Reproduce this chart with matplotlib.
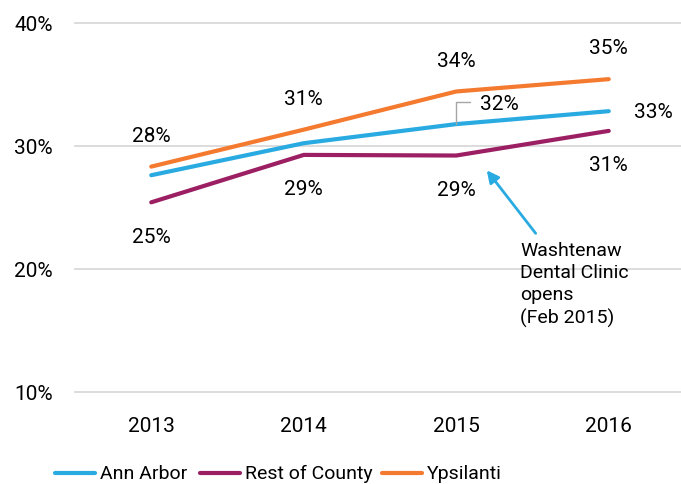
import matplotlib
matplotlib.use("Agg")
import matplotlib.pyplot as plt
from matplotlib.lines import Line2D

years = ["2013", "2014", "2015", "2016"]
ann_arbor = [27.6, 30.2, 31.75, 32.8]
rest_county = [25.4, 29.25, 29.2, 31.2]
ypsilanti = [28.3, 31.3, 34.4, 35.4]

ann_labels = ["", "", "32%", "33%"]
rest_labels = ["25%", "29%", "29%", "31%"]
ypsi_labels = ["28%", "31%", "34%", "35%"]
series_names = ["Ann Arbor", "Rest of County", "Ypsilanti"]

C_ANN = "#29abe2"
C_REST = "#9b1f62"
C_YPSI = "#f47a30"

plt.rcParams["font.family"] = ["Roboto", "DejaVu Sans"]

fig = plt.figure(figsize=(6.81, 4.85), dpi=100)
W, H = 681, 485
# axes: x from 75 to 685 px, y from 23.5 to 393 px
ax = fig.add_axes([75 / W, 1 - 393 / H, 610 / W, (393 - 23.5) / H])
x = list(range(len(years)))

ax.set_xlim(-0.5, 3.5)
ax.set_ylim(10, 40)
for v in (10, 20, 30, 40):
    ax.axhline(v, color="#d9d9d9", lw=1.3, zorder=1, clip_on=False)

ax.plot(x, ann_arbor, color=C_ANN, lw=3, solid_capstyle="round", zorder=3)
ax.plot(x, rest_county, color=C_REST, lw=3, solid_capstyle="round", zorder=3)
ax.plot(x, ypsilanti, color=C_YPSI, lw=3, solid_capstyle="round", zorder=3)

fs = 15
for i, t in enumerate(ypsi_labels):
    ax.annotate(t, (x[i], ypsilanti[i]), xytext=(0, 22.5), textcoords="offset points",
                ha="center", va="center", fontsize=fs)
for i, t in enumerate(rest_labels):
    ax.annotate(t, (x[i], rest_county[i]), xytext=(0, -24.5), textcoords="offset points",
                ha="center", va="center", fontsize=fs)
# Ann Arbor labels
ax.annotate(ann_labels[3], (x[3], ann_arbor[3]), xytext=(32, 0), textcoords="offset points",
            ha="center", va="center", fontsize=fs)
ax.annotate(ann_labels[2], (x[2], ann_arbor[2]), xytext=(31, 15), textcoords="offset points",
            ha="center", va="center", fontsize=fs)
# leader line for 32%
ax.annotate("", xy=(x[2], ann_arbor[2]), xytext=(x[2] + 0.09, ann_arbor[2] + 1.8),
            arrowprops=dict(arrowstyle="-", color="#a6a6a6", lw=1,
                            connectionstyle="angle,angleA=0,angleB=90,rad=0",
                            shrinkA=0, shrinkB=0))

# event annotation
ax.annotate("Washtenaw\nDental Clinic\nopens\n(Feb 2015)", xy=(2.2, 28.0), xytext=(2.42, 22.3),
            fontsize=14, ha="left", va="top", linespacing=1.3,
            arrowprops=dict(arrowstyle="-|>", color=C_ANN, lw=2, mutation_scale=18,
                            shrinkA=4, shrinkB=0))

ax.set_yticks([10, 20, 30, 40])
ax.set_yticklabels(["10%", "20%", "30%", "40%"], fontsize=fs)
ax.set_xticks(x)
ax.set_xticklabels(years, fontsize=fs)
ax.tick_params(length=0)
ax.tick_params(axis="x", pad=17)
ax.tick_params(axis="y", pad=16)
for s in ax.spines.values():
    s.set_visible(False)

# legend drawn by hand to match spacing
leg_y = 1 - 474 / H
leg_x = [(55, 100), (200, 245), (382, 427)]
for (lx, tx), name, c in zip(leg_x, series_names, [C_ANN, C_REST, C_YPSI]):
    fig.add_artist(Line2D([lx / W, (lx + 40) / W], [leg_y, leg_y], color=c, lw=3,
                          solid_capstyle="round"))
    fig.text(tx / W, leg_y, name, ha="left", va="center", fontsize=14)

fig.savefig("out.png", dpi=100)
